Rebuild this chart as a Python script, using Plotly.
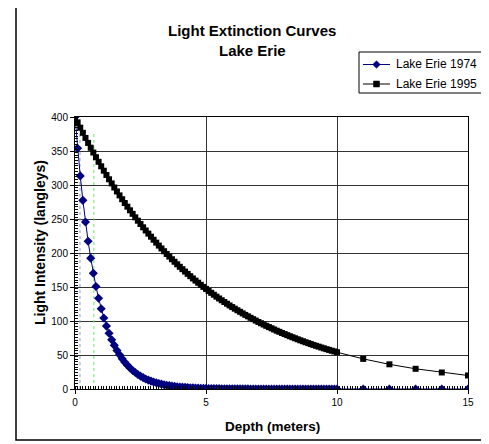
import plotly.graph_objects as go

# Depth values (m)
depth = [0.0, 0.1, 0.2, 0.3, 0.4, 0.5, 0.6, 0.7, 0.8, 0.9,
         1.0, 1.1, 1.2, 1.3, 1.4, 1.5, 1.6, 1.7, 1.8, 1.9,
         2.0, 2.1, 2.2, 2.3, 2.4, 2.5, 2.6, 2.7, 2.8, 2.9,
         3.0, 3.1, 3.2, 3.3, 3.4, 3.5, 3.6, 3.7, 3.8, 3.9,
         4.0, 4.1, 4.2, 4.3, 4.4, 4.5, 4.6, 4.7, 4.8, 4.9,
         5.0, 5.1, 5.2, 5.3, 5.4, 5.5, 5.6, 5.7, 5.8, 5.9,
         6.0, 6.1, 6.2, 6.3, 6.4, 6.5, 6.6, 6.7, 6.8, 6.9,
         7.0, 7.1, 7.2, 7.3, 7.4, 7.5, 7.6, 7.7, 7.8, 7.9,
         8.0, 8.1, 8.2, 8.3, 8.4, 8.5, 8.6, 8.7, 8.8, 8.9,
         9.0, 9.1, 9.2, 9.3, 9.4, 9.5, 9.6, 9.7, 9.8, 9.9,
         10.0, 11.0, 12.0, 13.0, 14.0, 15.0]

# Light intensity (langleys), Lake Erie 1974
erie_1974 = [400.0, 354.1, 313.4, 277.4, 245.5, 217.3, 192.4, 170.3, 150.7, 133.4,
             118.1, 104.5, 92.5, 81.9, 72.5, 64.2, 56.8, 50.3, 44.5, 39.4,
             34.9, 30.9, 27.3, 24.2, 21.4, 18.9, 16.8, 14.8, 13.1, 11.6,
             10.3, 9.1, 8.1, 7.1, 6.3, 5.6, 5.0, 4.4, 3.9, 3.4,
             3.0, 2.7, 2.4, 2.1, 1.9, 1.7, 1.5, 1.3, 1.1, 1.0,
             0.9, 0.8, 0.7, 0.6, 0.55, 0.5, 0.43, 0.38, 0.34, 0.3,
             0.26, 0.23, 0.21, 0.18, 0.16, 0.14, 0.13, 0.11, 0.1, 0.09,
             0.08, 0.07, 0.06, 0.055, 0.05, 0.04, 0.04, 0.03, 0.03, 0.03,
             0.02, 0.02, 0.02, 0.02, 0.01, 0.01, 0.01, 0.01, 0.01, 0.01,
             0.01, 0.01, 0.0, 0.0, 0.0, 0.0, 0.0, 0.0, 0.0, 0.0,
             0.0, 0.0, 0.0, 0.0, 0.0, 0.0]

# Light intensity (langleys), Lake Erie 1995
erie_1995 = [400.0, 392.1, 384.3, 376.7, 369.2, 361.9, 354.8, 347.7, 340.9, 334.1,
             327.5, 321.0, 314.7, 308.4, 302.3, 296.3, 290.5, 284.7, 279.1, 273.5,
             268.1, 262.8, 257.6, 252.5, 247.5, 242.6, 237.8, 233.1, 228.5, 224.0,
             219.5, 215.2, 210.9, 206.7, 202.6, 198.6, 194.7, 190.8, 187.1, 183.4,
             179.7, 176.2, 172.7, 169.3, 165.9, 162.6, 159.4, 156.3, 153.2, 150.1,
             147.2, 144.2, 141.4, 138.6, 135.8, 133.1, 130.5, 127.9, 125.4, 122.9,
             120.5, 118.1, 115.8, 113.5, 111.2, 109.0, 106.9, 104.7, 102.7, 100.6,
             98.6, 96.7, 94.8, 92.9, 91.1, 89.3, 87.5, 85.7, 84.1, 82.4,
             80.8, 79.2, 77.6, 76.1, 74.6, 73.1, 71.6, 70.2, 68.8, 67.5,
             66.1, 64.8, 63.5, 62.3, 61.0, 59.8, 58.6, 57.5, 56.3, 55.2,
             54.1, 44.3, 36.3, 29.7, 24.3, 19.9]

series_names = ["Lake Erie 1974", "Lake Erie 1995"]
series_colors = ["#000080", "#000000"]
series_symbols = ["diamond", "square"]

# Dotted vertical reference lines (depth, top intensity, colour)
ref_depths = [0.19, 0.72]
ref_tops = [390, 378]
ref_colors = ["#7f9fd0", "#66ee66"]

fig = go.Figure()

for d, top, c in zip(ref_depths, ref_tops, ref_colors):
    fig.add_trace(go.Scatter(x=[d, d], y=[0, top], mode="lines",
                             line=dict(color=c, width=1, dash="dot"),
                             showlegend=False, hoverinfo="skip"))

for vals, name, col, sym in zip([erie_1974, erie_1995], series_names,
                                series_colors, series_symbols):
    fig.add_trace(go.Scatter(x=depth, y=vals, mode="lines+markers", name=name,
                             line=dict(color=col, width=1),
                             marker=dict(symbol=sym, size=7 if sym == "diamond" else 6,
                                         color=col),
                             showlegend=False))

OFF = 8  # page body margin
W, H = 489 - OFF, 444 - OFF
L, R, T, B = 75 - OFF, 21, 117 - OFF, 55
pw, ph = W - L - R, H - T - B

def px(xp):
    return (xp - OFF - L) / pw

def py(yp):
    return (H - B - (yp - OFF)) / ph

shapes = [dict(type="rect", xref="paper", yref="paper",
               x0=px(16), x1=px(484), y0=py(440), y1=py(6),
               line=dict(color="black", width=1.5), layer="below")]
annotations = [
    dict(text="<b>Light Extinction Curves</b>", xref="paper", yref="paper",
         x=px(252), y=py(30), showarrow=False, font=dict(size=15),
         xanchor="center", yanchor="middle"),
    dict(text="<b>Lake Erie</b>", xref="paper", yref="paper",
         x=px(252), y=py(50), showarrow=False, font=dict(size=15),
         xanchor="center", yanchor="middle"),
    dict(text="<b>Depth (meters)</b>", xref="paper", yref="paper",
         x=px(272), y=py(426), showarrow=False, font=dict(size=13.5),
         xanchor="center", yanchor="middle"),
    dict(text="<b>Light Intensity (langleys)</b>", xref="paper", yref="paper",
         x=px(40), y=py(243), showarrow=False, font=dict(size=14),
         textangle=-90, xanchor="center", yanchor="middle"),
]

# manual legend box
LX0, LX1, LY0, LY1 = 359, 487, 52, 93
shapes.append(dict(type="rect", xref="paper", yref="paper",
                   x0=px(LX0), x1=px(LX1), y0=py(LY1), y1=py(LY0),
                   line=dict(color="black", width=1), fillcolor="white"))
row_y = [64.5, 84]
for ry, name, col, sym in zip(row_y, series_names, series_colors, series_symbols):
    shapes.append(dict(type="line", xref="paper", yref="paper",
                       x0=px(363), x1=px(390), y0=py(ry), y1=py(ry),
                       line=dict(color=col, width=1)))
    cx = 376.5
    if sym == "diamond":
        r = 3.8
        path = (f"M {px(cx - r)} {py(ry)} L {px(cx)} {py(ry - r)} "
                f"L {px(cx + r)} {py(ry)} L {px(cx)} {py(ry + r)} Z")
        shapes.append(dict(type="path", xref="paper", yref="paper", path=path,
                           fillcolor=col, line=dict(color=col, width=0.5)))
    else:
        r = 3
        shapes.append(dict(type="rect", xref="paper", yref="paper",
                           x0=px(cx - r), x1=px(cx + r), y0=py(ry + r), y1=py(ry - r),
                           fillcolor=col, line=dict(color=col, width=0.5)))
    annotations.append(dict(text=name, xref="paper", yref="paper",
                            x=px(394), y=py(ry), showarrow=False,
                            font=dict(size=12), xanchor="left", yanchor="middle"))

fig.update_layout(
    width=W, height=H, autosize=False,
    margin=dict(l=L, r=R, t=T, b=B, pad=0),
    paper_bgcolor="white", plot_bgcolor="white",
    font=dict(family="Liberation Sans, Arial, sans-serif", color="black", size=10),
    showlegend=False,
    shapes=shapes,
    annotations=annotations,
)

fig.update_xaxes(range=[0, 15], dtick=5, tick0=0,
                 showgrid=True, gridcolor="#333333", gridwidth=1,
                 showline=True, linecolor="black", linewidth=1, mirror=True,
                 ticks="outside", ticklen=4, tickcolor="black",
                 tickfont=dict(size=10), zeroline=False,
                 minor=dict(dtick=0.1, tick0=0, ticks="inside", ticklen=3,
                            tickcolor="black", showgrid=False))
fig.update_yaxes(range=[0, 400], dtick=50, tick0=0,
                 showgrid=True, gridcolor="#333333", gridwidth=1,
                 showline=True, linecolor="black", linewidth=1, mirror=True,
                 ticks="outside", ticklen=4, tickcolor="black",
                 tickfont=dict(size=10), zeroline=False,
                 minor=dict(dtick=4, tick0=0, ticks="inside", ticklen=3,
                            tickcolor="black", showgrid=False))

fig.write_html("out.html")
